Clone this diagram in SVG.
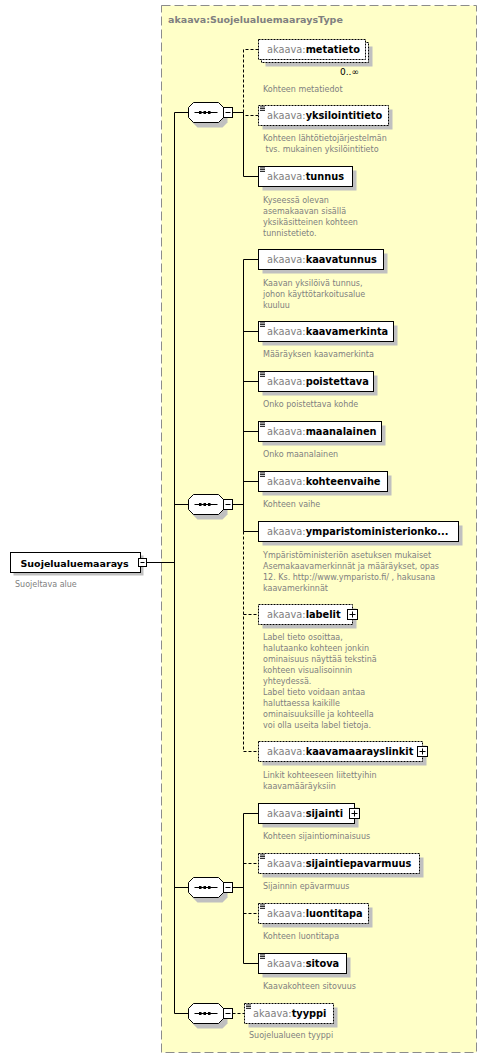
<svg xmlns="http://www.w3.org/2000/svg" width="488" height="1058" viewBox="0 0 488 1058">
<style>
.bx{fill:#fff;stroke:#000;stroke-width:1}
.db{fill:#fff;stroke:#000;stroke-width:1;stroke-dasharray:2,1}
.sh{fill:#c0c0c0}
.ln{fill:none;stroke:#000;stroke-width:1}
.dl{fill:none;stroke:#000;stroke-width:1;stroke-dasharray:3,2}
.nm{font-family:"DejaVu Sans",sans-serif;font-size:9.8px;font-weight:bold;fill:#000}
.pf{fill:#808080;font-weight:normal}
.ds{font-family:"DejaVu Sans",sans-serif;font-size:8px;fill:#808080}
.tt{font-family:"DejaVu Sans",sans-serif;font-size:9.5px;font-weight:bold;fill:#808080}
.btn{fill:#fff;stroke:#000;stroke-width:1}
</style>
<defs>
<g id="doc"><rect x="0" y="0" width="5" height="0.9" fill="#000"/><rect x="0" y="1.7" width="5" height="0.9" fill="#000"/><rect x="0" y="3.4" width="5" height="0.9" fill="#000"/></g>
<g id="seq">
<path d="M9,-5 H34 L39,0 V10 L34,15 H9 L4,10 V0 Z" fill="#c0c0c0"/>
<path d="M5,-10 H30 L35,-5 V5 L30,10 H5 L0,5 V-5 Z" fill="#fff" stroke="#000"/>
<path d="M6,0 H29" stroke="#000"/>
<rect x="10.5" y="-1.5" width="2.5" height="3" fill="#000"/>
<rect x="15" y="-1.5" width="2.5" height="3" fill="#000"/>
<rect x="19.5" y="-1.5" width="2.5" height="3" fill="#000"/>
<rect x="35" y="-5" width="9" height="10" class="btn"/>
<path d="M37,0 H42" stroke="#000"/>
</g>
<g id="plus"><rect x="0" y="0" width="10" height="10" class="btn"/><path d="M2,5 H8 M5,2 V8" stroke="#000"/></g>
</defs>

<rect x="161.5" y="5.5" width="315" height="1047" fill="#ffffc8" stroke="#8c8c8c" stroke-dasharray="9,4"/>
<text class="tt" x="168" y="23">akaava:SuojelualuemaaraysType</text>

<g id="connectors">
<path class="ln" d="M146.5,562.5 H174.5 M174.5,112.5 V1013.5 M174.5,112.5 H188.5 M174.5,504.5 H188.5 M174.5,887.5 H188.5 M174.5,1013.5 H188.5"/>
<path class="ln" d="M232.5,112.5 H243.5 M243.5,112.5 V176.5 H258.5"/>
<path class="dl" d="M243.5,112.5 V49.5 H258.5 M243.5,112.5 V115.5 H258.5"/>
<path class="ln" d="M232.5,504.5 H243.5 M243.5,259.5 V531.5 M243.5,259.5 H258.5 M243.5,331.5 H258.5 M243.5,381.5 H258.5 M243.5,431.5 H258.5 M243.5,481.5 H258.5 M243.5,531.5 H258.5"/>
<path class="dl" d="M243.5,531.5 V751.5 H258.5 M243.5,614.5 H258.5"/>
<path class="ln" d="M232.5,887.5 H243.5 M243.5,813.5 V963.5 M243.5,813.5 H258.5 M243.5,963.5 H258.5"/>
<path class="dl" d="M243.5,863.5 H258.5 M243.5,913.5 H258.5"/>
<path class="dl" d="M232.5,1013.5 H244.5"/>
</g>

<g id="root">
<rect class="sh" x="13.5" y="555.5" width="130" height="20"/>
<rect class="bx" x="10.5" y="552.5" width="130" height="20"/>
<text class="nm" style="font-size:9.5px" x="20.5" y="566.5">Suojelualuemaarays</text>
<rect class="btn" x="138.5" y="558.5" width="8" height="8"/>
<path d="M140.5,562.5 H144.5" stroke="#000"/>
<text class="ds" x="15" y="586.5">Suojeltava alue</text>
</g>

<g id="seq1"><use href="#seq" x="188.5" y="112.5"/></g>
<g id="seq2"><use href="#seq" x="188.5" y="504.5"/></g>
<g id="seq3"><use href="#seq" x="188.5" y="887.5"/></g>
<g id="seq4"><use href="#seq" x="188.5" y="1013.5"/></g>

<g id="metatieto">
<rect class="sh" x="265.5" y="46.5" width="107" height="20"/>
<rect class="db" x="261.5" y="42.5" width="107" height="20"/>
<rect class="db" x="258.5" y="39.5" width="107" height="20"/>
<text class="nm" x="267" y="53"><tspan class="pf">akaava:</tspan>metatieto</text>
<text x="340" y="74.5" style="font-family:'DejaVu Sans',sans-serif;font-size:9px;fill:#000">0..∞</text>
<text class="ds" x="263" y="91.5">Kohteen metatiedot</text>
</g>

<g id="yksilointitieto">
<rect class="sh" x="262.5" y="109.5" width="130" height="20"/>
<rect class="db" x="258.5" y="105.5" width="130" height="20"/>
<use href="#doc" x="260" y="106.5"/>
<text class="nm" x="267" y="119"><tspan class="pf">akaava:</tspan>yksilointitieto</text>
<text class="ds" x="263" y="141">Kohteen lähtötietojärjestelmän</text>
<text class="ds" x="265.5" y="152">tvs. mukainen yksilöintitieto</text>
</g>

<g id="tunnus">
<rect class="sh" x="262.5" y="170.5" width="94" height="20"/>
<rect class="bx" x="258.5" y="166.5" width="94" height="20"/>
<use href="#doc" x="260" y="167.5"/>
<text class="nm" x="267" y="180"><tspan class="pf">akaava:</tspan>tunnus</text>
<text class="ds" x="263" y="202.5">Kyseessä olevan<tspan x="263" dy="11">asemakaavan sisällä</tspan><tspan x="263" dy="11">yksikäsitteinen kohteen</tspan><tspan x="263" dy="11">tunnistetieto.</tspan></text>
</g>

<g id="kaavatunnus">
<rect class="sh" x="262.5" y="253.5" width="125" height="20"/>
<rect class="bx" x="258.5" y="249.5" width="125" height="20"/>
<text class="nm" x="267" y="263"><tspan class="pf">akaava:</tspan>kaavatunnus</text>
<text class="ds" x="263" y="285.5">Kaavan yksilöivä tunnus,<tspan x="263" dy="11">johon käyttötarkoitusalue</tspan><tspan x="263" dy="11">kuuluu</tspan></text>
</g>

<g id="kaavamerkinta">
<rect class="sh" x="262.5" y="325.5" width="135" height="20"/>
<rect class="bx" x="258.5" y="321.5" width="135" height="20"/>
<use href="#doc" x="260" y="322.5"/>
<text class="nm" x="267" y="335"><tspan class="pf">akaava:</tspan>kaavamerkinta</text>
<text class="ds" x="263" y="357">Määräyksen kaavamerkinta</text>
</g>

<g id="poistettava">
<rect class="sh" x="262.5" y="375.5" width="115" height="20"/>
<rect class="bx" x="258.5" y="371.5" width="115" height="20"/>
<use href="#doc" x="260" y="372.5"/>
<text class="nm" x="267" y="385"><tspan class="pf">akaava:</tspan>poistettava</text>
<text class="ds" x="263" y="407">Onko poistettava kohde</text>
</g>

<g id="maanalainen">
<rect class="sh" x="262.5" y="425.5" width="123" height="20"/>
<rect class="bx" x="258.5" y="421.5" width="123" height="20"/>
<use href="#doc" x="260" y="422.5"/>
<text class="nm" x="267" y="435"><tspan class="pf">akaava:</tspan>maanalainen</text>
<text class="ds" x="263" y="457">Onko maanalainen</text>
</g>

<g id="kohteenvaihe">
<rect class="sh" x="262.5" y="475.5" width="129" height="20"/>
<rect class="bx" x="258.5" y="471.5" width="129" height="20"/>
<use href="#doc" x="260" y="472.5"/>
<text class="nm" x="267" y="485"><tspan class="pf">akaava:</tspan>kohteenvaihe</text>
<text class="ds" x="263" y="507">Kohteen vaihe</text>
</g>

<g id="ymparistoministerionkoodi">
<rect class="sh" x="262.5" y="525.5" width="200" height="20"/>
<rect class="bx" x="258.5" y="521.5" width="200" height="20"/>
<text class="nm" x="267" y="535"><tspan class="pf">akaava:</tspan>ymparistoministerionko...</text>
<text class="ds" x="263" y="557.5">Ympäristöministeriön asetuksen mukaiset<tspan x="263" dy="11">Asemakaavamerkinnät ja määräykset, opas</tspan><tspan x="263" dy="11">12. Ks. http://www.ymparisto.fi/ , hakusana</tspan><tspan x="263" dy="11">kaavamerkinnät</tspan></text>
</g>

<g id="labelit">
<rect class="sh" x="262.5" y="608.5" width="94" height="20"/>
<rect class="db" x="258.5" y="604.5" width="94" height="20"/>
<use href="#plus" x="347.5" y="609.5"/>
<text class="nm" x="267" y="618"><tspan class="pf">akaava:</tspan>labelit</text>
<text class="ds" x="263" y="640">Label tieto osoittaa,<tspan x="263" dy="11">halutaanko kohteen jonkin</tspan><tspan x="263" dy="11">ominaisuus näyttää tekstinä</tspan><tspan x="263" dy="11">kohteen visualisoinnin</tspan><tspan x="263" dy="11">yhteydessä.</tspan><tspan x="263" dy="11">Label tieto voidaan antaa</tspan><tspan x="263" dy="11">haluttaessa kaikille</tspan><tspan x="263" dy="11">ominaisuuksille ja kohteella</tspan><tspan x="263" dy="11">voi olla useita label tietoja.</tspan></text>
</g>

<g id="kaavamaarayslinkit">
<rect class="sh" x="262.5" y="745.5" width="164" height="20"/>
<rect class="db" x="258.5" y="741.5" width="164" height="20"/>
<use href="#plus" x="417.5" y="746.5"/>
<text class="nm" x="267" y="755"><tspan class="pf">akaava:</tspan>kaavamaarayslinkit</text>
<text class="ds" x="263" y="778">Linkit kohteeseen liitettyihin<tspan x="263" dy="11">kaavamääräyksiin</tspan></text>
</g>

<g id="sijainti">
<rect class="sh" x="262.5" y="807.5" width="96" height="20"/>
<rect class="bx" x="258.5" y="803.5" width="96" height="20"/>
<use href="#plus" x="349.5" y="808.5"/>
<text class="nm" x="267" y="817"><tspan class="pf">akaava:</tspan>sijainti</text>
<text class="ds" x="263" y="839">Kohteen sijaintiominaisuus</text>
</g>

<g id="sijaintiepavarmuus">
<rect class="sh" x="262.5" y="857.5" width="161" height="20"/>
<rect class="db" x="258.5" y="853.5" width="161" height="20"/>
<use href="#doc" x="260" y="854.5"/>
<text class="nm" x="267" y="867"><tspan class="pf">akaava:</tspan>sijaintiepavarmuus</text>
<text class="ds" x="263" y="889">Sijainnin epävarmuus</text>
</g>

<g id="luontitapa">
<rect class="sh" x="262.5" y="907.5" width="110" height="20"/>
<rect class="db" x="258.5" y="903.5" width="110" height="20"/>
<use href="#doc" x="260" y="904.5"/>
<text class="nm" x="267" y="917"><tspan class="pf">akaava:</tspan>luontitapa</text>
<text class="ds" x="263" y="939">Kohteen luontitapa</text>
</g>

<g id="sitova">
<rect class="sh" x="262.5" y="957.5" width="88" height="20"/>
<rect class="bx" x="258.5" y="953.5" width="88" height="20"/>
<use href="#doc" x="260" y="954.5"/>
<text class="nm" x="267" y="967"><tspan class="pf">akaava:</tspan>sitova</text>
<text class="ds" x="263" y="989">Kaavakohteen sitovuus</text>
</g>

<g id="tyyppi">
<rect class="sh" x="248.5" y="1007.5" width="89" height="20"/>
<rect class="db" x="244.5" y="1003.5" width="89" height="20"/>
<use href="#doc" x="246" y="1004.5"/>
<text class="nm" x="253" y="1017"><tspan class="pf">akaava:</tspan>tyyppi</text>
<text class="ds" x="249" y="1038">Suojelualueen tyyppi</text>
</g>
</svg>
